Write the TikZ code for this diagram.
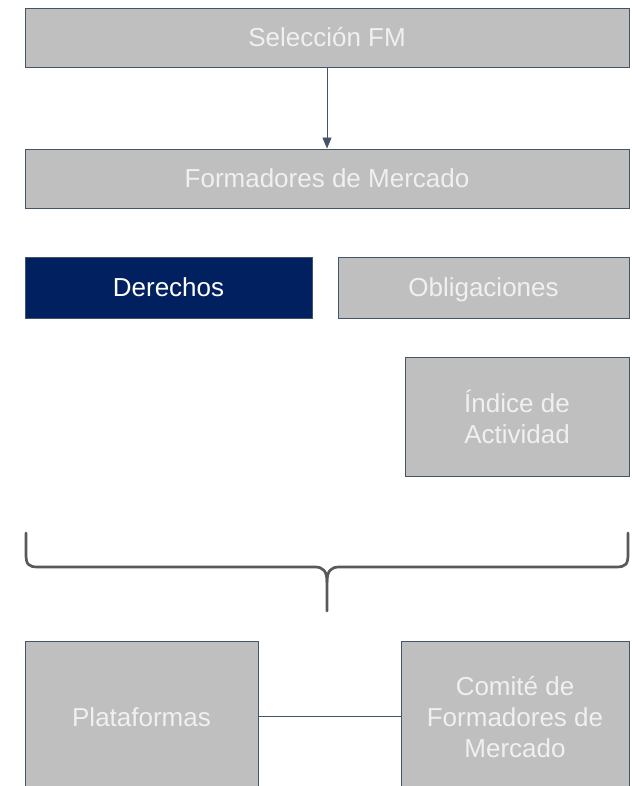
\documentclass[tikz,border=0pt]{standalone}
\usepackage{fontspec}
\setmainfont{Liberation Sans}
\usetikzlibrary{arrows.meta}
\definecolor{boxgray}{HTML}{BFBFBF}
\definecolor{edge}{HTML}{44546A}
\definecolor{navy}{HTML}{002060}
\definecolor{txtlight}{HTML}{F0F0F0}
\definecolor{bracegray}{HTML}{595959}
\tikzset{
  box/.style={draw=edge, line width=0.9pt, fill=boxgray, text=txtlight, align=center,
    inner sep=0pt, font=\fontsize{26}{31}\selectfont},
  oneline/.style={text height=22pt, text depth=4.5pt},
  darkbox/.style={box, fill=navy, text=white},
  conn/.style={draw=edge, line width=0.9pt},
  bracestyle/.style={draw=bracegray, line width=2.7pt, line cap=round, line join=round},
}
\begin{document}
\begin{tikzpicture}[x=1pt, y=-1pt]
\useasboundingbox (0,0) rectangle (631,786);
\node[box, oneline, minimum width=604pt, minimum height=59pt] (sel) at (327,37.5) {Selección FM};
\node[box, oneline, minimum width=604pt, minimum height=59pt] (form) at (327,178.5) {Formadores de Mercado};
\node[darkbox, oneline, minimum width=287pt, minimum height=61pt] (der) at (168.5,287.5) {Derechos};
\node[box, oneline, minimum width=291pt, minimum height=61pt] (obl) at (483.5,287.5) {Obligaciones};
\node[box, minimum width=224pt, minimum height=119pt] (ind) at (517,416.5) {Índice de\\Actividad};
\node[box, minimum width=233pt, minimum height=180pt] (pla) at (141.5,731) {};
\node[font=\fontsize{26}{31}\selectfont, text=txtlight, inner sep=0pt] (platxt) at (141.5,717) {Plataformas};
\node[box, minimum width=228pt, minimum height=180pt] (com) at (515,731) {};
\node[font=\fontsize{26}{31}\selectfont, text=txtlight, align=center, inner sep=0pt] (comtxt) at (515,717) {Comité de\\Formadores de\\Mercado};
\draw[conn, -{Triangle[width=9pt,length=11pt]}] (sel.south) -- (form.north);
\coordinate (pr) at (pla.east |- 0,716);
\coordinate (cl) at (com.west |- 0,716);
\draw[conn] (pr) -- (cl);
% brace
\coordinate (bl) at (26,533);
\coordinate (br) at (628,533);
\coordinate (bt) at (327,611);
\draw[bracestyle] (bl) -- (26,554) .. controls (26,564) and (28,567) .. (38,567)
  -- (315,567) .. controls (323,567) and (327,571) .. (327,582) -- (bt);
\draw[bracestyle] (br) -- (628,554) .. controls (628,564) and (626,567) .. (616,567)
  -- (339,567) .. controls (331,567) and (327,571) .. (327,582);
\end{tikzpicture}
\end{document}
